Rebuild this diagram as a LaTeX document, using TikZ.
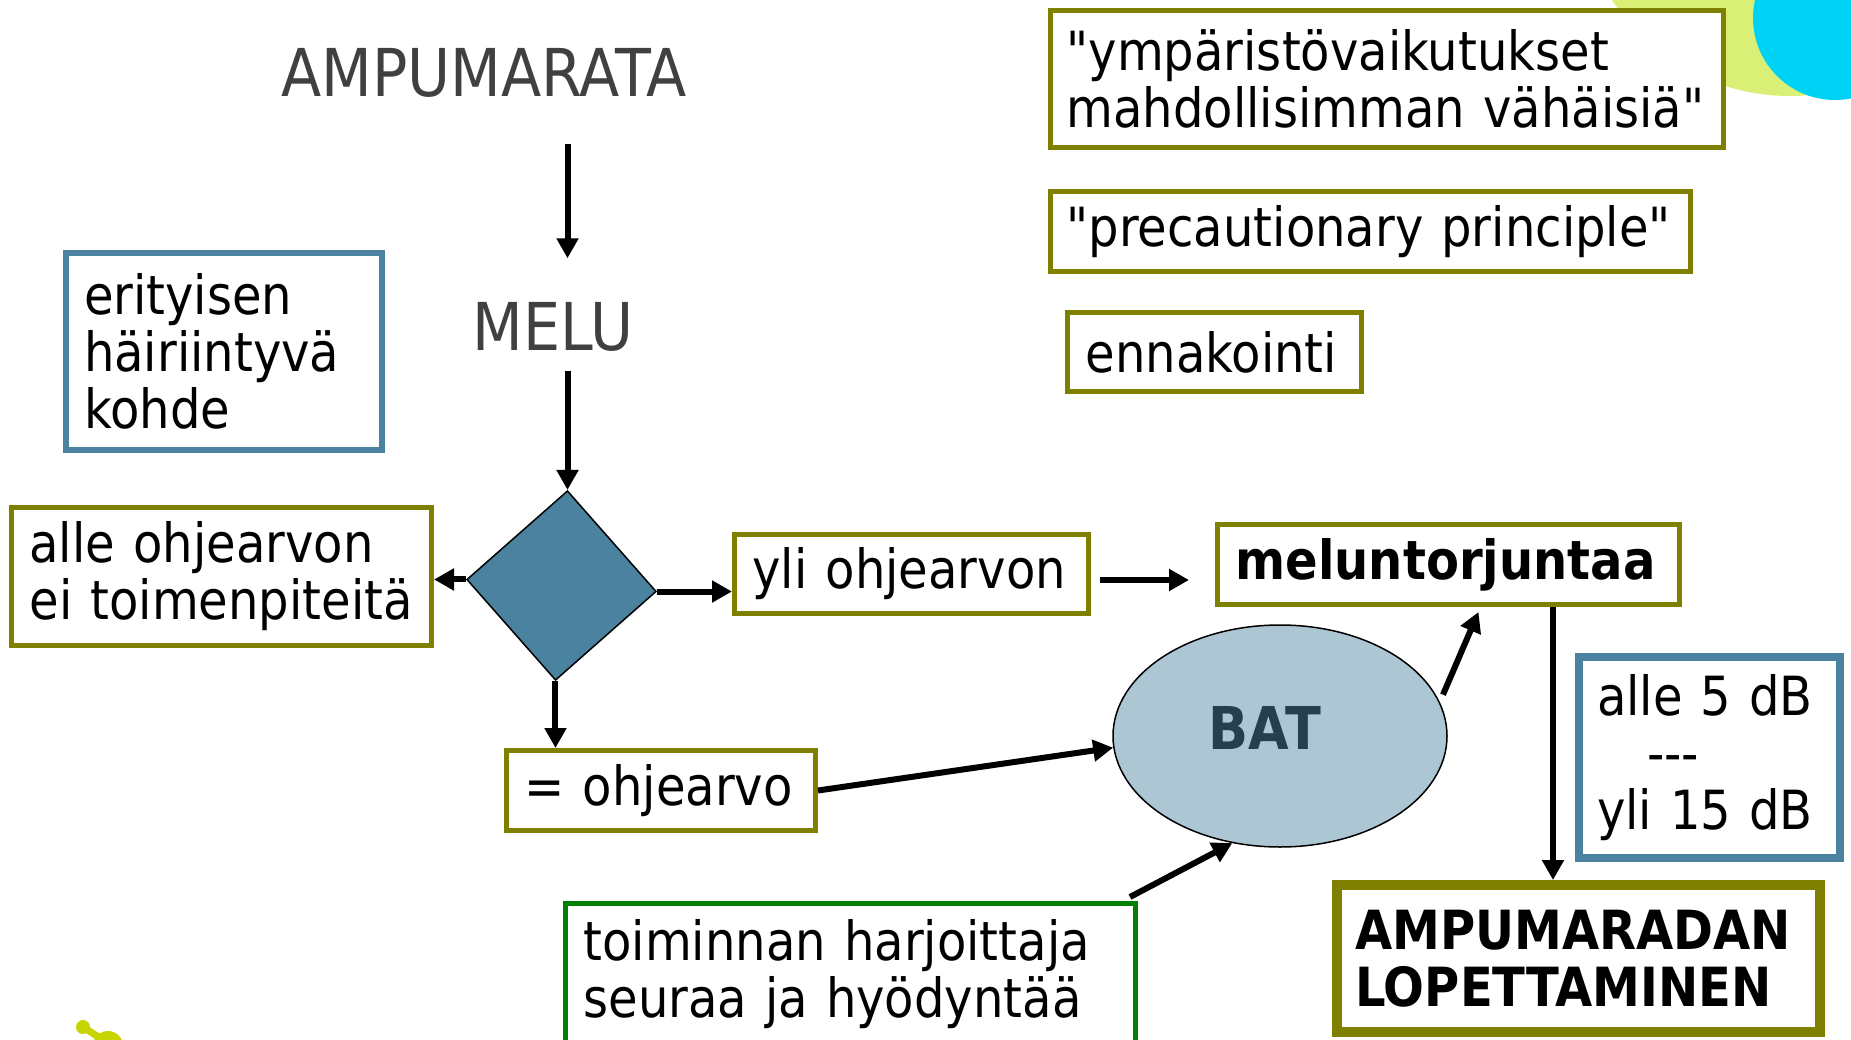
\documentclass[tikz,border=0pt]{standalone}
\usepackage{fontspec}
\setmainfont{DejaVu Sans}[FakeStretch=0.89, Ligatures=TeXOff]
\usetikzlibrary{shapes.geometric,arrows.meta,calc}

\definecolor{boxolive}{HTML}{808000}
\definecolor{boxblue}{HTML}{4A82A0}
\definecolor{boxgreen}{HTML}{008000}
\definecolor{batfill}{HTML}{ADC6D3}
\definecolor{battext}{HTML}{253F4D}
\definecolor{titlegray}{HTML}{404040}
\definecolor{decoyellow}{HTML}{D9EF76}
\definecolor{decocyan}{HTML}{00D2F5}
\definecolor{decolime}{HTML}{C8D400}

\tikzset{
  title/.style={font=\fontsize{66}{70}\selectfont, text=titlegray, inner sep=0pt},
  box/.style={font=\fontsize{54}{57}\selectfont, draw=boxolive, line width=5pt, fill=white,
    inner xsep=18pt, inner ysep=0pt, align=left},
  bluebox/.style={box, draw=boxblue},
  arr/.style={line width=6pt, -{Triangle[length=20pt,width=21pt]}},
}

\begin{document}
\begin{tikzpicture}[x=1pt,y=-1pt]
        \useasboundingbox (0,0) rectangle (1851,1040);
        \clip (0,0) rectangle (1851,1040);

        % Decoration in the corners
        \fill[decoyellow] (1790,-117) circle (213);
        \fill[decocyan] (1835,18) circle (82);
        \fill[decolime] (83,1027) circle (7);
        \fill[decolime] (108,1046) circle (15);
        \draw[decolime, line width=7pt] (83,1027) -- (100,1038);

        % Defining the nodes
        \node[title] (ampu) at (484,73) {AMPUMARATA};
        \node[title] (melu) at (553,327) {MELU};
        \node[diamond, draw, line width=1.5pt, fill=boxblue, shape aspect=1,
          minimum width=190pt, minimum height=190pt, inner sep=0pt, rotate=-3.6]
          (decision) at (561.5,585.5) {};

        \node[box, inner xsep=16pt, text width=641pt, minimum height=137pt] (ymp) at (1387,79)
          {"ympäristövaikutukset\\mahdollisimman vähäisiä"};
        \node[box, inner xsep=16pt, text width=608pt, minimum height=80pt] (prec) at (1370.5,231.5)
          {"precautionary principle"};
        \node[box, text width=258pt, minimum height=79pt] (enna) at (1214.5,352)
          {ennakointi};
        \node[bluebox, line width=6pt, text width=280pt, minimum height=197pt] (erit) at (224,351.5)
          {erityisen\\häiriintyvä\\kohde};
        \node[box, text width=384pt, minimum height=138pt] (alle) at (221.5,576.5)
          {alle ohjearvon\\ei toimenpiteitä};
        \node[box, text width=318pt, minimum height=79pt] (yli) at (911.5,574)
          {yli ohjearvon};
        \node[box, text width=273pt, minimum height=80pt] (ohje) at (661,790.5)
          {= ohjearvo};
        \node[box, text width=426pt, minimum height=80pt, font=\fontsize{54}{57}\selectfont\bfseries]
          (melun) at (1448.5,564.5) {meluntorjuntaa};
        \node[ellipse, draw, line width=1.5pt, fill=batfill, minimum width=334pt,
          minimum height=222pt, inner sep=0pt,
          label={[text=battext, font=\fontsize{59}{60}\selectfont\bfseries, xshift=-15pt, yshift=8.5pt]center:BAT}]
          (bat) at (1280,736) {};
        \node[bluebox, line width=8pt, text width=225pt, minimum height=201pt] (db) at (1709.5,757.5)
          {alle 5 dB\\\hspace*{50pt}-{}-{}-\\yli 15 dB};
        \node[box, line width=10pt, text width=447pt, minimum height=147pt,
          font=\fontsize{54}{57}\selectfont\bfseries] (lopetus) at (1578.5,958.5)
          {AMPUMARADAN\\LOPETTAMINEN};
        \node[box, draw=boxgreen, text width=534pt, minimum height=142pt] (toim) at (850.5,974.5)
          {toiminnan harjoittaja\\seuraa ja hyödyntää};

        % Defining the arrows
        \draw[arr, shorten <=46pt, shorten >=44pt] (decision.north |- ampu.south) -- (decision.north |- melu.north);
        \draw[arr, shorten <=19pt] (decision.north |- melu.south) -- (decision.north);
        \draw[arr] (decision.west) -- (decision.west -| alle.east);
        \draw[arr] (decision.east) -- (decision.east -| yli.west);
        \draw[arr] (decision.south) -- (decision.south |- ohje.north);
        \draw[arr, shorten <=9pt, shorten >=26pt] ([yshift=-6pt]yli.east) -- ([yshift=-6pt]yli.east -| melun.west);
        \draw[arr] (ohje.east) -- (bat.184);
        \draw[arr, shorten <=8pt] (bat.12) -- ($(melun.south)+(30,5)$);
        \draw[arr] ($(toim.north east)+(-8,-4)$) -- (bat.246);
        \coordinate (drop) at ($(melun.south east)+(-129,0)$);
        \draw[arr] (drop) -- (drop |- lopetus.north);

\end{tikzpicture}
\end{document}
